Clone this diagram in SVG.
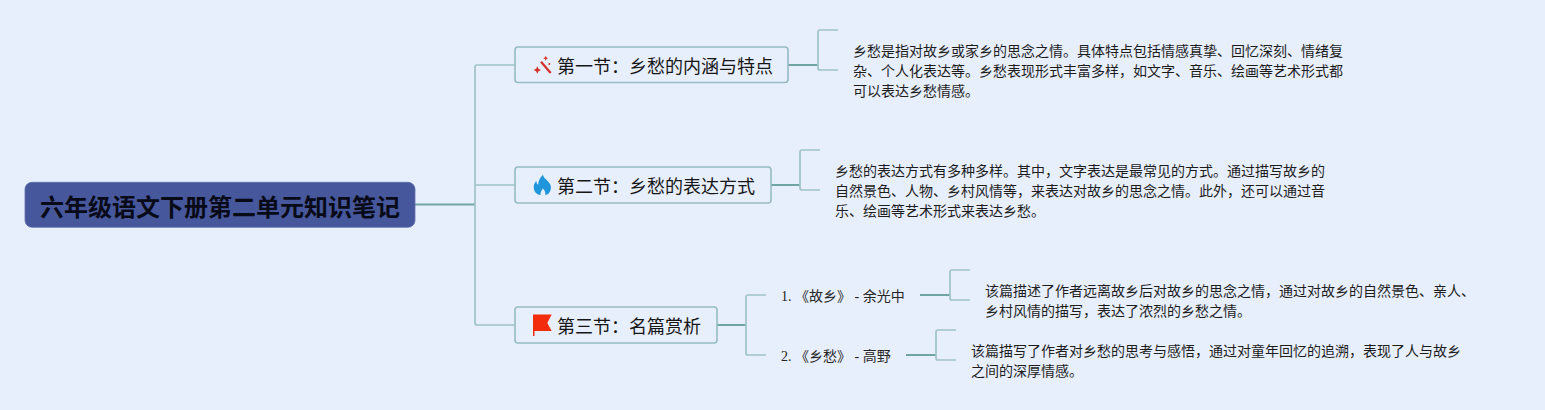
<svg xmlns="http://www.w3.org/2000/svg" width="1545" height="410" viewBox="0 0 1545 410">
<style>
text{font-family:"Liberation Serif","Noto Sans CJK SC",serif;fill:#111;white-space:pre}
.root{font-family:"Liberation Sans","Noto Sans CJK SC",sans-serif;font-size:24px;font-weight:700;fill:#080a18}
.sec{font-size:18px;fill:#161616}
.body{font-size:14px;fill:#1c1c1c}
.sub{font-size:14px;fill:#262626}
.box{fill:#e8effc;stroke:#94bcc4;stroke-width:1.6}
.l{fill:none;stroke:#9fc2c9;stroke-width:1.7}
.d{fill:none;stroke:#6fa5a5;stroke-width:2}
</style>
<rect width="1545" height="410" fill="#e8effc"/>
<g id="connectors">
<path class="d" d="M415 204.500H475"/>
<path class="l" d="M475 205V67Q475 65 477 65H515M475 185H515M475 205V323Q475 325 477 325H515"/>
<path class="d" d="M788 65H818"/>
<path class="l" d="M838 30H820Q818 30 818 32V68Q818 70 820 70H838"/>
<path class="d" d="M771 185H800"/>
<path class="l" d="M820 150H802Q800 150 800 152V188Q800 190 802 190H820"/>
<path class="d" d="M717 325H746"/>
<path class="l" d="M766 295H748Q746 295 746 297V353Q746 355 748 355H766"/>
<path class="d" d="M920 295H950"/>
<path class="l" d="M970 270H952Q950 270 950 272V298Q950 300 952 300H970"/>
<path class="d" d="M906 355H936"/>
<path class="l" d="M956 330H938Q936 330 936 332V358Q936 360 938 360H956"/>
</g>
<g id="root">
<rect x="25" y="182.300" width="390" height="45" rx="7" fill="#46579b" stroke="#5f70ab" stroke-width="0.800"/>
<text class="root" x="40" y="216">六年级语文下册第二单元知识笔记</text>
</g>
<g id="sec1">
<rect class="box" x="515" y="47" width="273" height="35.500" rx="3"/>
<g fill="#d4332c">
<path d="M541 61.700L550.700 73" stroke="#d4332c" stroke-width="2.300" fill="none"/>
<path d="M537.300 66.300l1.200 2.500 2.500 1.200-2.500 1.200-1.200 2.500-1.200-2.500-2.500-1.200 2.500-1.200z"/>
<path d="M545.700 55.800l.8 1.700 1.700.8-1.700.8-.8 1.700-.8-1.700-1.700-.8 1.700-.8z"/>
<circle cx="549.300" cy="64" r="1"/>
</g>
<text class="sec" x="557" y="73">第一节：乡愁的内涵与特点</text>
</g>
<g id="sec1-note">
<text class="body" x="853" y="56">乡愁是指对故乡或家乡的思念之情。具体特点包括情感真挚、回忆深刻、情绪复</text>
<text class="body" x="853" y="76">杂、个人化表达等。乡愁表现形式丰富多样，如文字、音乐、绘画等艺术形式都</text>
<text class="body" x="853" y="96">可以表达乡愁情感。</text>
</g>
<g id="sec2">
<rect class="box" x="515" y="167" width="256" height="36" rx="3"/>
<path fill="#1f96dc" d="M543 174.700C543.800 179 548 180 550.300 184.500C552.500 190 548.500 195 545.200 195C545.800 192.500 544.800 190.500 542.800 188.500C541.800 190.500 540 192 540.600 195C536.500 195 532.900 190.500 533.900 185.500C534.300 183.500 535.300 182 536.300 181C536.500 183 537 184 538.300 184.800C538 181 540 177.500 543 174.700Z"/>
<text class="sec" x="557" y="193">第二节：乡愁的表达方式</text>
</g>
<g id="sec2-note">
<text class="body" x="835" y="176">乡愁的表达方式有多种多样。其中，文字表达是最常见的方式。通过描写故乡的</text>
<text class="body" x="835" y="196">自然景色、人物、乡村风情等，来表达对故乡的思念之情。此外，还可以通过音</text>
<text class="body" x="835" y="216">乐、绘画等艺术形式来表达乡愁。</text>
</g>
<g id="sec3">
<rect class="box" x="515" y="307" width="202" height="36" rx="3"/>
<path fill="#f42c0e" d="M533 314.500H551.700L547.300 323L551.700 331H534.500V336H533Z"/>
<text class="sec" x="557" y="333">第三节：名篇赏析</text>
</g>
<g id="item1">
<text class="sub" x="781" y="301">1. 《故乡》 - 余光中</text>
</g>
<g id="item1-note">
<text class="body" x="985" y="296">该篇描述了作者远离故乡后对故乡的思念之情，通过对故乡的自然景色、亲人、</text>
<text class="body" x="985" y="316">乡村风情的描写，表达了浓烈的乡愁之情。</text>
</g>
<g id="item2">
<text class="sub" x="781" y="361">2. 《乡愁》 - 高野</text>
</g>
<g id="item2-note">
<text class="body" x="971" y="356">该篇描写了作者对乡愁的思考与感悟，通过对童年回忆的追溯，表现了人与故乡</text>
<text class="body" x="971" y="376">之间的深厚情感。</text>
</g>
</svg>
